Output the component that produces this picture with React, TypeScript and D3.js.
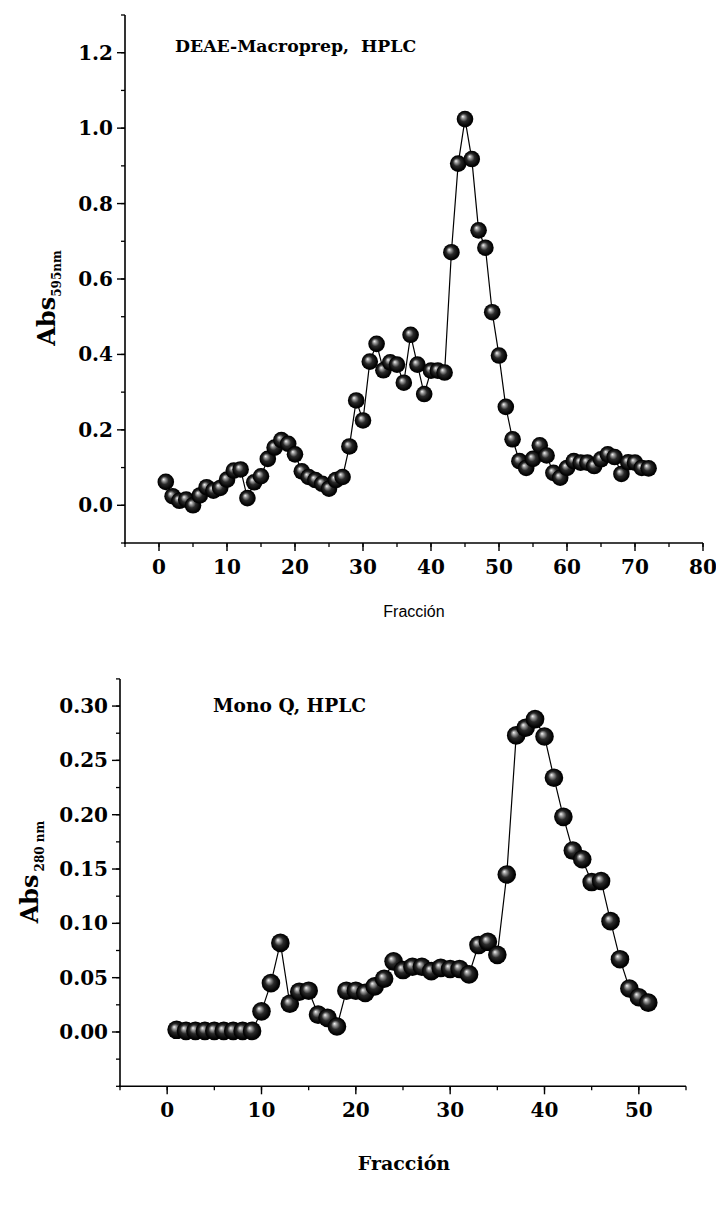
import React from "react";
import * as d3 from "d3";

const topFractions = d3.range(1, 73);
const topValues = [
  0.062, 0.024, 0.012, 0.015, 0.0, 0.026, 0.048, 0.039, 0.046, 0.068,
  0.092, 0.095, 0.019, 0.061, 0.077, 0.123, 0.153, 0.173, 0.163, 0.135,
  0.09, 0.075, 0.067, 0.057, 0.044, 0.067, 0.075, 0.156, 0.278, 0.225,
  0.381, 0.428, 0.358, 0.379, 0.373, 0.325, 0.452, 0.373, 0.295, 0.357,
  0.357, 0.352, 0.671, 0.906, 1.024, 0.918, 0.729, 0.683, 0.512, 0.397,
  0.261, 0.175, 0.117, 0.099, 0.123, 0.159, 0.132, 0.086, 0.073, 0.099,
  0.117, 0.113, 0.113, 0.104, 0.122, 0.135, 0.128, 0.083, 0.114, 0.113,
  0.099, 0.098,
];

const bottomFractions = d3.range(1, 52);
const bottomValues = [
  0.002, 0.001, 0.001, 0.001, 0.001, 0.001, 0.001, 0.001, 0.001, 0.019,
  0.045, 0.082, 0.026, 0.037, 0.038, 0.016, 0.013, 0.005, 0.038, 0.038,
  0.036, 0.042, 0.049, 0.065, 0.057, 0.06, 0.06, 0.056, 0.059, 0.058,
  0.058, 0.053, 0.08, 0.083, 0.071, 0.145, 0.273, 0.28, 0.288, 0.272,
  0.234, 0.198, 0.167, 0.159, 0.138, 0.139, 0.102, 0.067, 0.04, 0.032,
  0.027,
];

const topXTicks = [0, 10, 20, 30, 40, 50, 60, 70, 80];
const topYTicks = [0.0, 0.2, 0.4, 0.6, 0.8, 1.0, 1.2];
const bottomXTicks = [0, 10, 20, 30, 40, 50];
const bottomYTicks = [0.0, 0.05, 0.1, 0.15, 0.2, 0.25, 0.3];

const SERIF = "'DejaVu Serif', 'Liberation Serif', serif";
const SANS = "'Liberation Sans', Arial, sans-serif";

type PanelProps = {
  xs: number[];
  ys: number[];
  xDomain: [number, number];
  yDomain: [number, number];
  xRange: [number, number];
  yRange: [number, number];
  xTicks: number[];
  xMinorStep: number;
  yTicks: number[];
  yMinorStep: number;
  yFmt: (v: number) => string;
  radius: number;
  gradId: string;
};

function Panel(p: PanelProps) {
  const x = d3.scaleLinear().domain(p.xDomain).range(p.xRange);
  const y = d3.scaleLinear().domain(p.yDomain).range(p.yRange);
  const pts = p.xs.map((f, i) => [x(f), y(p.ys[i])] as [number, number]);
  const line = d3.line()(pts) || "";
  const xMinor = d3.range(p.xDomain[0], p.xDomain[1] + 1e-9, p.xMinorStep);
  const yMinor = d3.range(
    Math.ceil(p.yDomain[0] / p.yMinorStep - 1e-6) * p.yMinorStep,
    p.yDomain[1] + 1e-9,
    p.yMinorStep
  );
  const x0 = p.xRange[0];
  const yb = p.yRange[0];
  return (
    <g>
      <path d={line} fill="none" stroke="#000" strokeWidth={1.2} />
      {pts.map(([cx, cy], i) => (
        <circle key={i} cx={cx} cy={cy} r={p.radius} fill={`url(#${p.gradId})`} />
      ))}
      <line x1={x0} x2={x0} y1={p.yRange[1]} y2={yb + 1} stroke="#000" strokeWidth={1.6} />
      <line x1={x0 - 1} x2={p.xRange[1]} y1={yb} y2={yb} stroke="#000" strokeWidth={1.6} />
      {xMinor.map((v, i) => (
        <line key={"xm" + i} x1={x(v)} x2={x(v)} y1={yb} y2={yb + 4} stroke="#000" strokeWidth={1.3} />
      ))}
      {p.xTicks.map((v) => (
        <g key={"xt" + v}>
          <line x1={x(v)} x2={x(v)} y1={yb} y2={yb + 8} stroke="#000" strokeWidth={1.4} />
          <text
            x={x(v)}
            y={yb + 31}
            textAnchor="middle"
            fontFamily={SERIF}
            fontWeight="bold"
            fontSize={20}
          >
            {v}
          </text>
        </g>
      ))}
      {yMinor.map((v, i) => (
        <line key={"ym" + i} x1={x0} x2={x0 - 4} y1={y(v)} y2={y(v)} stroke="#000" strokeWidth={1.3} />
      ))}
      {p.yTicks.map((v) => (
        <g key={"yt" + v}>
          <line x1={x0} x2={x0 - 8} y1={y(v)} y2={y(v)} stroke="#000" strokeWidth={1.4} />
          <text
            x={x0 - 12}
            y={y(v) + 7}
            textAnchor="end"
            fontFamily={SERIF}
            fontWeight="bold"
            fontSize={20}
          >
            {p.yFmt(v)}
          </text>
        </g>
      ))}
    </g>
  );
}

export default function App() {
  return (
    <svg
      width={716}
      height={1208}
      style={{ display: "block", background: "#fff", position: "absolute", left: 0, top: 0 }}
    >
      <defs>
        {["gTop", "gBot"].map((id) => (
          <radialGradient key={id} id={id} cx="0.5" cy="0.5" r="0.5" fx="0.36" fy="0.34">
            <stop offset="0" stopColor="#f6f6f6" />
            <stop offset="0.2" stopColor="#9a9a9a" />
            <stop offset="0.48" stopColor="#2a2a2a" />
            <stop offset="0.85" stopColor="#050505" />
            <stop offset="1" stopColor="#000" />
          </radialGradient>
        ))}
      </defs>
      <Panel
        xs={topFractions}
        ys={topValues}
        xDomain={[-5, 80]}
        yDomain={[-0.1, 1.3]}
        xRange={[125, 703]}
        yRange={[543, 15]}
        xTicks={topXTicks}
        xMinorStep={5}
        yTicks={topYTicks}
        yMinorStep={0.1}
        yFmt={(v) => v.toFixed(1)}
        radius={8.3}
        gradId="gTop"
      />
      <text x={175} y={52} fontFamily={SERIF} fontWeight="bold" fontSize={17.3} xmlSpace="preserve">
        DEAE-Macroprep,  HPLC
      </text>
      <text x={414} y={617} textAnchor="middle" fontFamily={SANS} fontSize={16}>
        Fracción
      </text>
      <text
        transform="translate(55,298) rotate(-90)"
        textAnchor="middle"
        fontFamily={SERIF}
        fontWeight="bold"
        fontSize={24}
      >
        Abs
        <tspan fontSize={12} dy={6}>
          595nm
        </tspan>
      </text>

      <Panel
        xs={bottomFractions}
        ys={bottomValues}
        xDomain={[-5, 55]}
        yDomain={[-0.05, 0.325]}
        xRange={[120, 686]}
        yRange={[1086.3, 678.9]}
        xTicks={bottomXTicks}
        xMinorStep={5}
        yTicks={bottomYTicks}
        yMinorStep={0.025}
        yFmt={(v) => v.toFixed(2)}
        radius={9.3}
        gradId="gBot"
      />
      <text x={213} y={712} fontFamily={SERIF} fontWeight="bold" fontSize={18.6}>
        Mono Q, HPLC
      </text>
      <text x={404} y={1170} textAnchor="middle" fontFamily={SERIF} fontWeight="bold" fontSize={19}>
        Fracción
      </text>
      <text
        transform="translate(38,872) rotate(-90)"
        textAnchor="middle"
        fontFamily={SERIF}
        fontWeight="bold"
        fontSize={24}
      >
        Abs
        <tspan fontSize={12} dy={6} dx={3}>
          280 nm
        </tspan>
      </text>
    </svg>
  );
}
